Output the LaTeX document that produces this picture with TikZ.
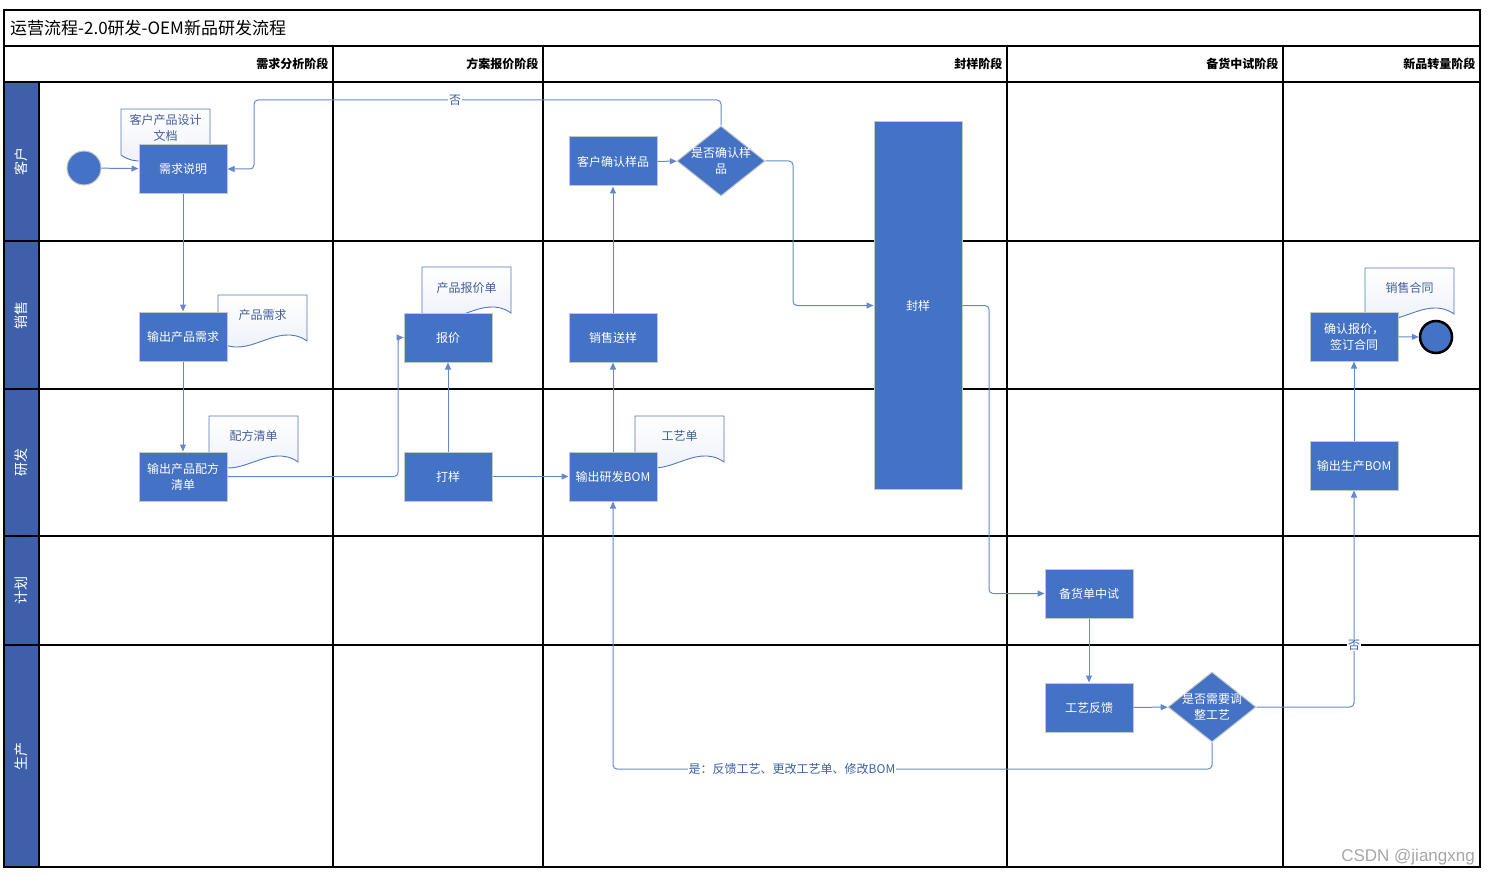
\documentclass[tikz,border=0pt]{standalone}
\usepackage{fontspec}
\setmainfont{Noto Sans CJK SC}
\newfontfamily\wmfont{Liberation Sans}
\definecolor{flowblue}{RGB}{68,114,196}
\definecolor{lanebl}{RGB}{62,96,170}
\definecolor{linkbl}{RGB}{100,136,206}
\definecolor{docedge}{RGB}{84,118,192}
\usetikzlibrary{arrows.meta,shapes.geometric,calc}

\begin{document}
\begin{tikzpicture}[x=1pt, y=-1pt,
    box/.style={rectangle, minimum width=88pt, minimum height=49pt, fill=flowblue, draw=black!22,
      line width=1pt, text=white, align=center, inner sep=1pt, font=\fontsize{12}{16}\selectfont},
    dia/.style={diamond, minimum width=88pt, minimum height=70pt, inner sep=0pt,
      fill=flowblue, draw=black!22, line width=1pt},
    diatxt/.style={text=white, align=center, inner sep=0pt, font=\fontsize{12}{16}\selectfont},
    doc/.style={draw=docedge, line width=0.9pt, top color=white, bottom color=flowblue!12},
    doctxt/.style={text=docedge!80!black, align=center, inner sep=0pt, font=\fontsize{12}{16}\selectfont},
    lane/.style={rotate=90, text=white, font=\fontsize{14}{16}\selectfont},
    hdr/.style={anchor=east, font=\fontsize{12}{14}\selectfont\bfseries},
    grid/.style={line width=1.2pt, black},
    arr/.style={-{Triangle[length=7pt,width=6pt]}, line width=1pt, linkbl, rounded corners=4pt},
    lbl/.style={fill=white, text=flowblue!85!black, inner sep=1pt, font=\fontsize{12}{14}\selectfont}
  ]
  \useasboundingbox (0,0) rectangle (1490,877);

  % swim lane frame
  \fill[lanebl] (4,82) rectangle (39,867);
  \draw[grid] (4,10) rectangle (1480,867);
  \draw[grid] (4,46) -- (1480,46);
  \draw[grid] (4,82) -- (1480,82);
  \draw[grid] (39,82) -- (39,867);
  \draw[grid] (333,46) -- (333,867);
  \draw[grid] (543,46) -- (543,867);
  \draw[grid] (1007,46) -- (1007,867);
  \draw[grid] (1283,46) -- (1283,867);
  \draw[grid] (4,241) -- (1480,241);
  \draw[grid] (4,389) -- (1480,389);
  \draw[grid] (4,536) -- (1480,536);
  \draw[grid] (4,645) -- (1480,645);

  \node[anchor=west, inner sep=0pt, font=\fontsize{17}{20}\selectfont] (title) at (10,28) {运营流程-2.0研发-OEM新品研发流程};
  \node[hdr] (h1) at (332,64) {需求分析阶段};
  \node[hdr] (h2) at (542,64) {方案报价阶段};
  \node[hdr] (h3) at (1006,64) {封样阶段};
  \node[hdr] (h4) at (1282,64) {备货中试阶段};
  \node[hdr] (h5) at (1479,64) {新品转量阶段};

  \node[lane] (lkh) at (21.5,161.5) {客户};
  \node[lane] (lxs) at (21.5,315) {销售};
  \node[lane] (lyf) at (21.5,462.5) {研发};
  \node[lane] (ljh) at (21.5,590.5) {计划};
  \node[lane] (lsc) at (21.5,756) {生产};

  % documents behind the boxes
  \draw[doc] (121,109) -- ++(89,0) -- ++(0,46) .. controls +(-30,-21) and +(30,21) .. ++(-89,0) -- cycle;
  \node[doctxt] (dkh) at (165.5,127.5) {客户产品设计\\文档};
  \draw[doc] (218,295) -- ++(89,0) -- ++(0,46) .. controls +(-30,-21) and +(30,21) .. ++(-89,0) -- cycle;
  \node[doctxt] (dxq) at (262.5,315) {产品需求};
  \draw[doc] (422,267) -- ++(89,0) -- ++(0,46) .. controls +(-30,-21) and +(30,21) .. ++(-89,0) -- cycle;
  \node[doctxt] (dbj) at (466.5,288) {产品报价单};
  \draw[doc] (209,416) -- ++(89,0) -- ++(0,46) .. controls +(-30,-21) and +(30,21) .. ++(-89,0) -- cycle;
  \node[doctxt] (dpf) at (253.5,436) {配方清单};
  \draw[doc] (635,416) -- ++(89,0) -- ++(0,46) .. controls +(-30,-21) and +(30,21) .. ++(-89,0) -- cycle;
  \node[doctxt] (dgy) at (679.5,436) {工艺单};
  \draw[doc] (1365,268) -- ++(89,0) -- ++(0,46) .. controls +(-30,-21) and +(30,21) .. ++(-89,0) -- cycle;
  \node[doctxt] (dht) at (1409.5,288) {销售合同};

  % steps
  \node[circle, minimum size=34pt, inner sep=0pt, fill=flowblue, draw=black!22, line width=1pt] (start) at (84,168) {};
  \node[box] (req)      at (183,169)    {需求说明};
  \node[box] (salreq)   at (183,336.5)  {输出产品需求};
  \node[box] (formula)  at (183,476.5)  {输出产品配方\\清单};
  \node[box] (quote)    at (448,337.5)  {报价};
  \node[box] (proto)    at (448,476.5)  {打样};
  \node[box] (confirm)  at (613,161.5)  {客户确认样品};
  \node[box] (send)     at (613,337.5)  {销售送样};
  \node[box] (rdbom)    at (613,476.5)  {输出研发BOM};
  \node[box, minimum height=367pt] (seal) at (918,305.5) {封样};
  \node[box] (trial)    at (1089,593.5) {备货单中试};
  \node[box] (feedback) at (1089,707.5) {工艺反馈};
  \node[box] (prodbom)  at (1354,465.5) {输出生产BOM};
  \node[box] (sign)     at (1354,336.5) {确认报价，\\签订合同};
  \node[dia] (chk) at (721,161) {};
  \node[diatxt] (chkt) at (721,161) {是否确认样\\品};
  \node[dia] (adj) at (1212,707) {};
  \node[diatxt] (adjt) at (1212,707) {是否需要调\\整工艺};
  \node[circle, minimum size=32pt, inner sep=0pt, fill=flowblue, draw=black, line width=2.5pt] (stop) at (1436,337) {};

  % links
  \draw[arr] (start) -- (req);
  \draw[arr] (req) -- (salreq);
  \draw[arr] (salreq) -- (formula);
  \draw[arr] (formula.east) -- (398,476.5) |- (quote.west);
  \draw[arr] (proto) -- (quote);
  \draw[arr] (proto) -- (rdbom);
  \draw[arr] (rdbom) -- (send);
  \draw[arr] (send) -- (confirm);
  \draw[arr] (confirm) -- (chk);
  \draw[arr] (chk.north) |- (254,100) |- (req.east);
  \draw[arr] (chk.east) -- (793,161) |- (seal.west);
  \draw[arr] (seal.east) -- (989,305.5) |- (trial.west);
  \draw[arr] (trial) -- (feedback);
  \draw[arr] (feedback) -- (adj);
  \draw[arr] (adj.east) -| (prodbom.south);
  \draw[arr] (adj.south) |- (613,769) -- (rdbom.south);
  \draw[arr] (prodbom) -- (sign);
  \draw[arr] (sign) -- (stop);

  \node[lbl] (no1) at (455,100) {否};
  \node[lbl] (no2) at (1354,645) {否};
  \node[lbl] (yes) at (792,769) {是：反馈工艺、更改工艺单、修改BOM};

  \node[anchor=east, inner sep=0pt, text=black!35, font=\wmfont\fontsize{17}{20}\selectfont] (wm) at (1475,857) {CSDN @jiangxng};
\end{tikzpicture}
\end{document}
